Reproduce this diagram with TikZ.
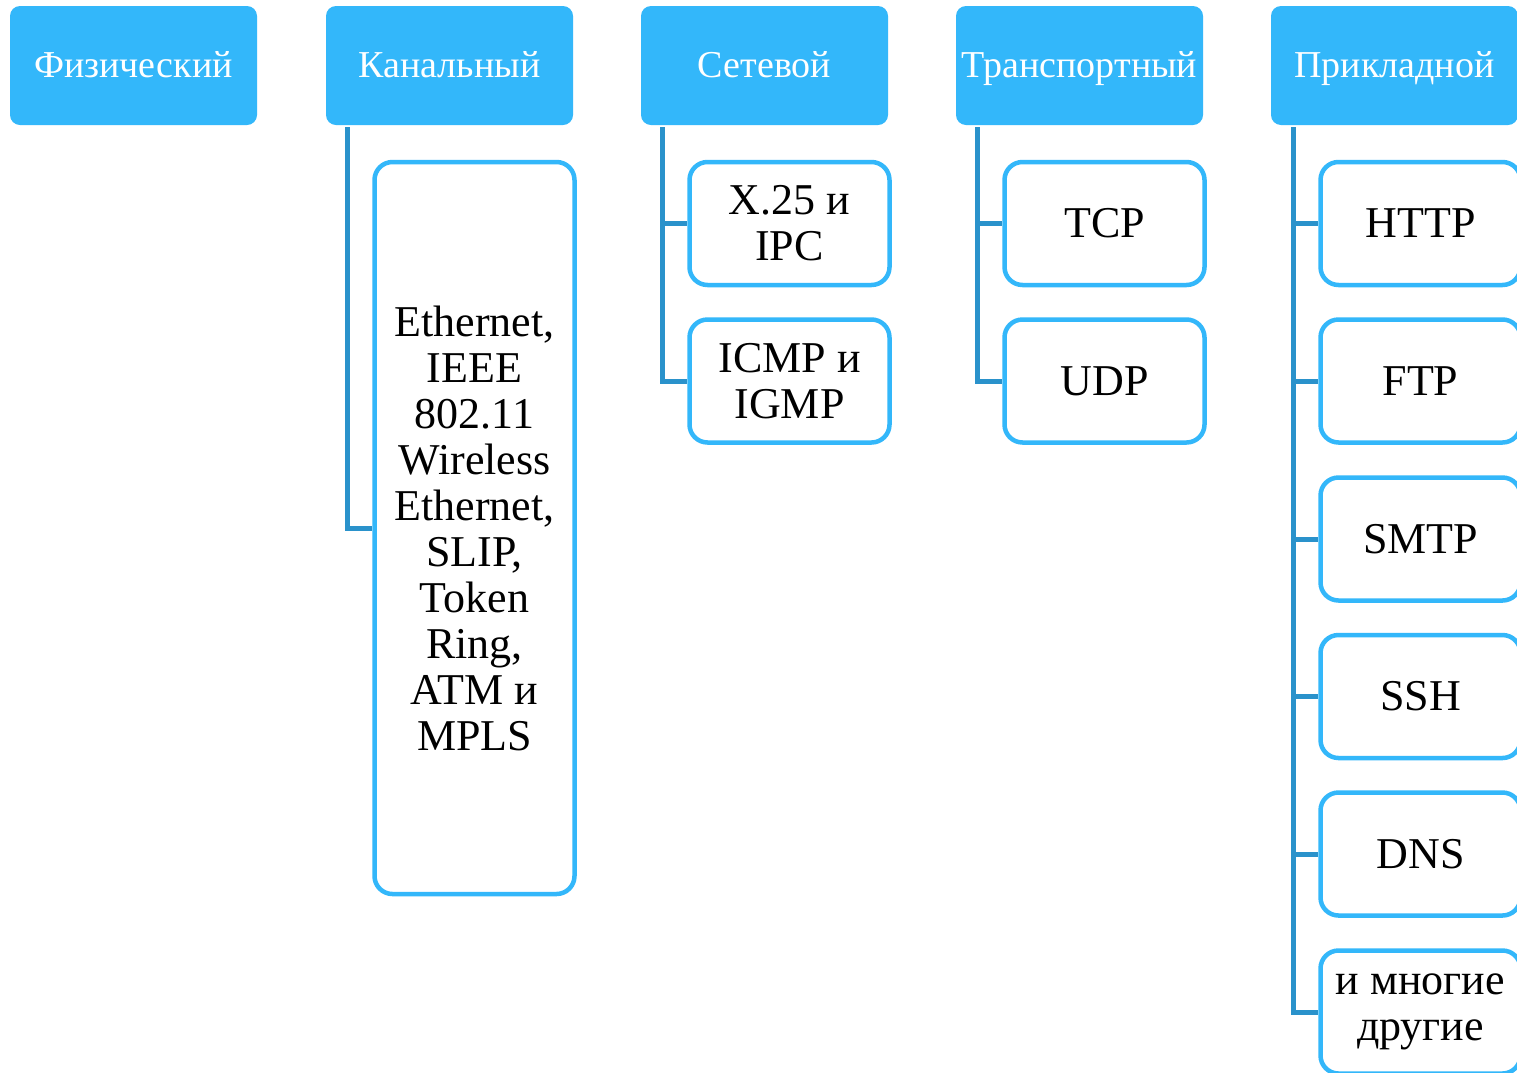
\documentclass[tikz,border=0pt]{standalone}
\usepackage{fontspec}
\setmainfont{Liberation Serif}
\usepackage{xcolor}
\usetikzlibrary{positioning}
\definecolor{layerblue}{HTML}{33B7FA}
\definecolor{linkblue}{HTML}{2A92CB}

\begin{document}
\begin{tikzpicture}[x=1pt,y=-1pt,
  layer/.style={fill=layerblue,text=white,rounded corners=10pt,inner sep=0pt,
    minimum width=247pt,minimum height=119pt,text height=26pt,text depth=2pt,
    font=\fontsize{38}{42}\selectfont},
  proto/.style={draw=layerblue,fill=white,line width=4.5pt,rounded corners=18pt,
    inner sep=0pt,minimum width=200pt,minimum height=123pt,align=center,
    font=\fontsize{44}{46}\selectfont},
  link/.style={draw=linkblue,line width=5pt}]
\clip (0,0) rectangle (1517,1072);
\fill[white] (0,0) rectangle (1517,1072);

% layers
\node[layer] (phys) at (133.5,65.5) {Физический};
\node[layer] (chan) at (449.5,65.5) {Канальный};
\node[layer] (net)  at (764.5,65.5) {Сетевой};
\node[layer] (tran) at (1079.5,65.5) {Транспортный};
\node[layer] (app)  at (1394.5,65.5) {Прикладной};

% protocols
\node[proto,minimum height=732pt] (eth) at (474.5,528)
  {Ethernet,\\IEEE\\802.11\\Wireless\\Ethernet,\\SLIP,\\Token\\Ring,\\ATM и\\MPLS};

\node[proto] (x25)  at (789.5,223.5) {X.25 и\\IPC};
\node[proto] (icmp) at (789.5,381)   {ICMP и\\IGMP};

\node[proto] (tcp) at (1104.5,223.5) {TCP};
\node[proto] (udp) at (1104.5,381)   {UDP};

\node[proto] (http) at (1420.5,223.5) {HTTP};
\node[proto] (ftp)  at (1420.5,381)   {FTP};
\node[proto] (smtp) at (1420.5,539)   {SMTP};
\node[proto] (ssh)  at (1420.5,696.5) {SSH};
\node[proto] (dns)  at (1420.5,854)   {DNS};
\node[proto] (more) at (1420.5,1012)  {и многие\\другие};

% links
\draw[link] ([xshift=22pt,yshift=-2pt]chan.south west) |- (eth.west);
\draw[link] ([xshift=22pt,yshift=-2pt]net.south west) |- (icmp.west);
\draw[link] ([xshift=22pt]net.south west |- x25.west) -- (x25.west);
\draw[link] ([xshift=22pt,yshift=-2pt]tran.south west) |- (udp.west);
\draw[link] ([xshift=22pt]tran.south west |- tcp.west) -- (tcp.west);
\draw[link] ([xshift=23pt,yshift=-2pt]app.south west) |- (more.west);
\foreach \p in {http,ftp,smtp,ssh,dns}
  \draw[link] ([xshift=23pt]app.south west |- \p.west) -- (\p.west);
\end{tikzpicture}
\end{document}
